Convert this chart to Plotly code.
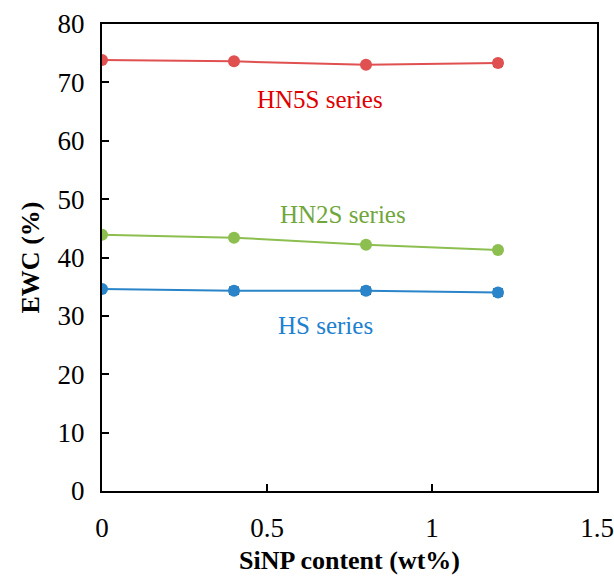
import plotly.graph_objects as go

x_vals = [0, 0.4, 0.8, 1.2]
hn5s = [73.85, 73.6, 73.0, 73.3]
hn2s = [43.9, 43.4, 42.2, 41.3]
hs = [34.6, 34.3, 34.3, 34.0]
hn5s_err = [0.3, 0.3, 0.3, 0.5]
hn2s_err = [0.4, 0.3, 0.3, 0.4]
hs_err = [0.4, 0.6, 0.6, 0.6]

x_ticks = [0, 0.5, 1, 1.5]
x_tick_text = ["0", "0.5", "1", "1.5"]
y_ticks = [0, 10, 20, 30, 40, 50, 60, 70, 80]

series = [
    ("HN5S series", hn5s, hn5s_err, "#E05050", "#E00000", 0.66, 67.0),
    ("HN2S series", hn2s, hn2s_err, "#8CBF4F", "#70A63C", 0.73, 47.3),
    ("HS series", hs, hs_err, "#2A84C9", "#2080D0", 0.676, 28.3),
]

FONT = "Liberation Serif"

fig = go.Figure()
for name, vals, err, col, tcol, ax, ay in series:
    fig.add_trace(go.Scatter(
        x=x_vals, y=vals, mode="lines+markers", name=name,
        line=dict(color=col, width=2),
        marker=dict(color=col, size=12),
        error_y=dict(type="data", array=err, color="#404040", thickness=1.5, width=5),
        showlegend=False,
    ))
    fig.add_annotation(x=ax, y=ay, text=name, showarrow=False,
                       font=dict(family=FONT, size=25, color=tcol))

fig.update_layout(
    width=614, height=577,
    margin=dict(l=102, r=17, t=24, b=86),
    plot_bgcolor="white", paper_bgcolor="white",
    font=dict(family=FONT, color="black"),
)
fig.update_xaxes(
    range=[0, 1.5], tickvals=x_ticks, ticktext=x_tick_text,
    ticks="inside", ticklen=7, tickwidth=1.5, tickcolor="black",
    showline=True, linecolor="black", linewidth=2, mirror=True,
    showgrid=False, zeroline=False, automargin=False,
    tickfont=dict(family=FONT, size=27, color="black"),
    ticklabelstandoff=12,
    title=dict(text="<b>SiNP content (wt%)</b>", font=dict(family=FONT, size=26, color="black"), standoff=8),
)
fig.update_yaxes(
    range=[0, 80], tickvals=y_ticks,
    ticks="inside", ticklen=7, tickwidth=1.5, tickcolor="black",
    showline=True, linecolor="black", linewidth=2, mirror=True,
    showgrid=False, zeroline=False, automargin=False,
    tickfont=dict(family=FONT, size=27, color="black"),
    ticklabelstandoff=10,
    title=dict(text="<b>EWC (%)</b>", font=dict(family=FONT, size=26, color="black"), standoff=10),
)

fig.write_html("out.html")
